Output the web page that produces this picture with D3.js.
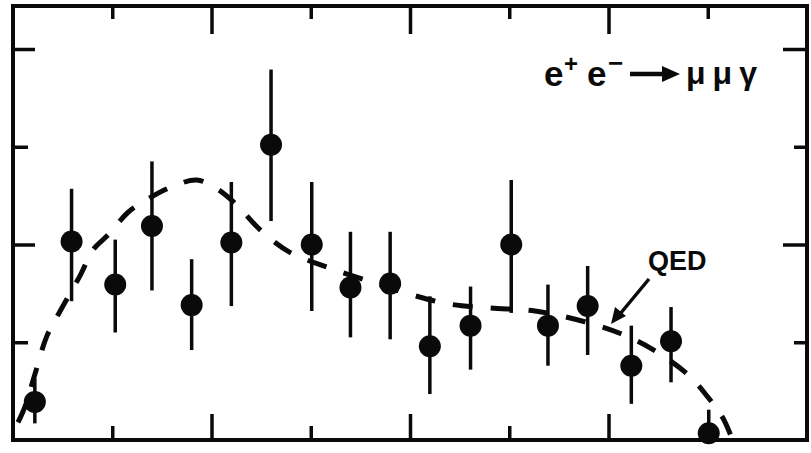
<!DOCTYPE html>
<html>
<head>
<meta charset="utf-8">
<script src="https://cdn.jsdelivr.net/npm/d3@7"></script>
<style>
  body { margin: 0; background: #fff; }
  svg { display: block; }
</style>
</head>
<body>
<div id="chart-area"></div>
<script>
// measured bins (x), counts and error bar ends
const binX = [0.22, 0.59, 1.03, 1.40, 1.80, 2.20, 2.60, 3.01, 3.40, 3.80, 4.20, 4.61, 5.02, 5.39, 5.79, 6.23, 6.63, 7.01]
const counts = [0.39, 2.03, 1.59, 2.19, 1.38, 2.02, 3.02, 2.00, 1.56, 1.60, 0.96, 1.17, 2.00, 1.17, 1.37, 0.76, 1.01, 0.07]
const errHi = [0.63, 2.57, 2.05, 2.85, 1.85, 2.64, 3.79, 2.64, 2.13, 2.13, 1.47, 1.57, 2.66, 1.59, 1.78, 1.17, 1.36, 0.31]
const errLo = [0.17, 1.42, 1.10, 1.53, 0.92, 1.37, 2.24, 1.32, 1.05, 1.03, 0.47, 0.72, 1.30, 0.76, 0.87, 0.37, 0.59, 0.00]

// QED curve
const qedX = [0.05, 0.12, 0.22, 0.34, 0.47, 0.68, 0.81, 0.96, 1.16, 1.35, 1.60, 1.85, 2.04, 2.24, 2.49, 2.79, 3.19, 3.63, 4.00, 4.40, 4.81, 5.26, 5.76, 6.12, 6.44, 6.80, 7.00, 7.15, 7.25]
const qedY = [0.18, 0.34, 0.67, 1.06, 1.31, 1.69, 1.95, 2.10, 2.33, 2.46, 2.59, 2.66, 2.58, 2.42, 2.15, 1.92, 1.76, 1.61, 1.49, 1.39, 1.35, 1.32, 1.21, 1.09, 0.93, 0.67, 0.44, 0.23, 0.00]

const xMajor = [2, 4, 6]
const xMinor = [1, 3, 5, 7]
const yMajor = [2, 4]
const yMinor = [1, 3]

const W = 811, H = 453
const MARGIN = { LEFT: 13, RIGHT: 4, TOP: 6, BOTTOM: 13 }
const INK = "#0a0a0a"

const svg = d3.select("#chart-area").append("svg")
    .attr("width", W)
    .attr("height", H)

const x = d3.scaleLinear().domain([0, 8]).range([MARGIN.LEFT, W - MARGIN.RIGHT])
const y = d3.scaleLinear().domain([0, 4.44]).range([H - MARGIN.BOTTOM, MARGIN.TOP])

// frame
svg.append("rect")
    .attr("x", x(0)).attr("y", y(4.44))
    .attr("width", x(8) - x(0)).attr("height", y(0) - y(4.44))
    .attr("fill", "none").attr("stroke", INK).attr("stroke-width", 4)

// inward ticks on all four sides
function ticks(axis, tr, vals, size) {
    const g = svg.append("g").attr("transform", tr)
        .call(axis.tickValues(vals).tickSize(size).tickSizeOuter(0).tickFormat(""))
    g.select(".domain").remove()
    g.selectAll(".tick line").attr("stroke", INK).attr("stroke-width", 3.5)
}
ticks(d3.axisRight(y), `translate(${x(0)},0)`, yMajor, 22)
ticks(d3.axisRight(y), `translate(${x(0)},0)`, yMinor, 15)
ticks(d3.axisLeft(y), `translate(${x(8)},0)`, yMajor, 24)
ticks(d3.axisLeft(y), `translate(${x(8)},0)`, yMinor, 13)
ticks(d3.axisBottom(x), `translate(0,${y(4.44)})`, xMajor, 28)
ticks(d3.axisBottom(x), `translate(0,${y(4.44)})`, xMinor, 13)
ticks(d3.axisTop(x), `translate(0,${y(0)})`, xMajor, 26)
ticks(d3.axisTop(x), `translate(0,${y(0)})`, xMinor, 14)

// QED dashed curve
const qed = qedX.map((d, i) => [d, qedY[i]])
svg.append("path")
    .datum(qed)
    .attr("d", d3.line().x(d => x(d[0])).y(d => y(d[1])).curve(d3.curveCatmullRom))
    .attr("fill", "none").attr("stroke", INK)
    .attr("stroke-width", 5).attr("stroke-dasharray", "20,18")

// data points with error bars
const pts = binX.map((d, i) => ({ x: d, y: counts[i], lo: errLo[i], hi: errHi[i] }))
svg.selectAll("line.err").data(pts).enter().append("line")
    .attr("class", "err")
    .attr("x1", d => x(d.x)).attr("x2", d => x(d.x))
    .attr("y1", d => y(d.hi)).attr("y2", d => y(d.lo))
    .attr("stroke", INK).attr("stroke-width", 3.5)
svg.selectAll("circle.pt").data(pts).enter().append("circle")
    .attr("class", "pt")
    .attr("cx", d => x(d.x)).attr("cy", d => y(d.y))
    .attr("r", 11).attr("fill", INK)

// reaction label
const font = "'Liberation Sans', Arial, sans-serif"
const lab = svg.append("g").attr("fill", INK).attr("font-family", font).attr("font-weight", "bold")
lab.append("text").attr("x", 544).attr("y", 86).attr("font-size", 35).text("e")
lab.append("text").attr("x", 564).attr("y", 72).attr("font-size", 24).text("+")
lab.append("text").attr("x", 587).attr("y", 86).attr("font-size", 35).text("e")
lab.append("text").attr("x", 608).attr("y", 72).attr("font-size", 26).text("−")
lab.append("line").attr("x1", 630).attr("x2", 666).attr("y1", 74).attr("y2", 74)
    .attr("stroke", INK).attr("stroke-width", 4.5)
lab.append("path").attr("d", "M662,66 L680,74 L662,82 Z")
lab.append("text").attr("x", 686).attr("y", 84).attr("font-size", 32)
    .attr("letter-spacing", 7).text("μμγ")

// QED label and arrow
svg.append("text").attr("x", 648).attr("y", 270)
    .attr("font-family", font).attr("font-weight", "bold").attr("font-size", 27)
    .attr("fill", INK).text("QED")
svg.append("line").attr("x1", 649).attr("y1", 279).attr("x2", 620).attr("y2", 314)
    .attr("stroke", INK).attr("stroke-width", 3.5)
svg.append("path").attr("d", "M611,324 L615,307 L626,316 Z").attr("fill", INK)
</script>
</body>
</html>
